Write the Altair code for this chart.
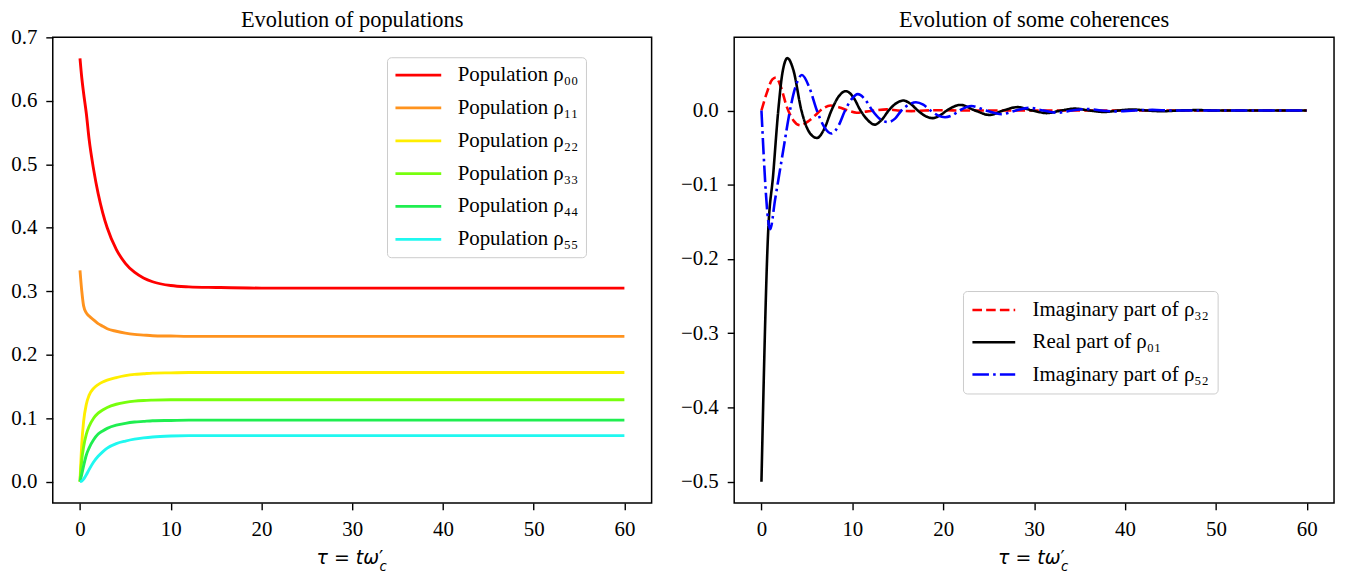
import altair as alt
import pandas as pd

# ---------------- data ----------------
t_pop = [0, 0.2, 0.4, 0.7, 1, 1.5, 2, 2.5, 3, 4, 5, 6, 7, 8, 10, 12, 15, 20, 30, 40, 50, 60]
rho00 = [0.667, 0.636, 0.612, 0.580, 0.540, 0.492, 0.454, 0.424, 0.400, 0.366, 0.344,
         0.330, 0.321, 0.315, 0.309, 0.307, 0.306, 0.305, 0.305, 0.305, 0.305, 0.305]
rho11 = [0.333, 0.300, 0.277, 0.266, 0.261, 0.255, 0.249, 0.245, 0.241, 0.237, 0.234,
         0.232, 0.231, 0.230, 0.2295, 0.229, 0.229, 0.229, 0.229, 0.229, 0.229, 0.229]
rho22 = [0.0, 0.060, 0.095, 0.122, 0.136, 0.147, 0.153, 0.157, 0.160, 0.164, 0.167,
         0.169, 0.170, 0.171, 0.1715, 0.172, 0.172, 0.172, 0.172, 0.172, 0.172, 0.172]
rho33 = [0.0, 0.035, 0.055, 0.075, 0.087, 0.100, 0.108, 0.113, 0.117, 0.122, 0.125,
         0.127, 0.128, 0.1285, 0.129, 0.129, 0.129, 0.129, 0.129, 0.129, 0.129, 0.129]
rho44 = [0.0, 0.012, 0.025, 0.042, 0.053, 0.066, 0.075, 0.080, 0.084, 0.089, 0.092,
         0.094, 0.095, 0.096, 0.0965, 0.097, 0.097, 0.097, 0.097, 0.097, 0.097, 0.097]
rho55 = [0.0, 0.001, 0.004, 0.011, 0.019, 0.031, 0.040, 0.047, 0.053, 0.060, 0.064,
         0.067, 0.069, 0.0705, 0.072, 0.0725, 0.0725, 0.0725, 0.0725, 0.0725, 0.0725, 0.0725]

pop_names = ["Population ρ₀₀", "Population ρ₁₁", "Population ρ₂₂",
             "Population ρ₃₃", "Population ρ₄₄", "Population ρ₅₅"]
pop_colors = ["#ff0000", "#ff931e", "#ffee00", "#77ff0d", "#1fee50", "#1ff8f0"]

t_im32 = [0, 0.6, 1.2, 1.6, 2.1, 2.8, 3.5, 4.3, 5.1, 5.9, 6.7, 7.6, 8.6, 9.5, 10.5,
          11.5, 12.5, 13.8, 15, 16.5, 18, 20, 22, 30, 40, 50, 60]
im32 = [0, 0.024, 0.042, 0.0445, 0.033, 0.0045, -0.013, -0.020, -0.015, -0.0067, 0.002,
        0.0067, 0.004, 0.0, -0.003, -0.0015, 0.0, 0.0015, 0.0, -0.0008, 0.0, 0.0004, 0.0,
        0.0, 0.0, 0.0, 0.0]

t_re01 = [0, 0.7, 1.3, 1.85, 2.3, 2.86, 3.5, 4.4, 5.2, 6.1, 6.9, 7.7, 8.5, 9.3, 10.1,
          10.9, 11.7, 12.45, 13.2, 14.0, 14.8, 15.6, 16.4, 17.2, 18.0, 18.8, 19.6, 20.4,
          21.9, 23.5, 25.1, 26.6, 28.2, 29.8, 31.4, 33.0, 34.5, 36.1, 37.7, 39.3, 40.8,
          42.4, 44, 46, 48, 50, 60]
re01 = [-0.5, -0.174, -0.085, 0.0, 0.05, 0.0705, 0.055, 0.0, -0.028, -0.037, -0.025, 0.0,
        0.019, 0.026, 0.018, 0.0, -0.013, -0.019, -0.013, 0.0, 0.0095, 0.0134, 0.009, 0.0,
        -0.0072, -0.0103, -0.007, 0.0, 0.0075, 0.0, -0.006, 0.0, 0.0045, 0.0, -0.0035, 0.0,
        0.0025, 0.0, -0.002, 0.0, 0.0013, 0.0, -0.001, 0.0, 0.0005, 0.0, 0.0]

t_im52 = [0, 0.96, 1.5, 2.0, 2.5, 3.0, 3.7, 4.45, 5.3, 6.1, 6.9, 7.7, 8.5, 9.2, 9.9, 10.6,
          11.4, 12.2, 13.0, 13.9, 14.7, 15.4, 16.2, 17.0, 17.8, 18.6, 19.4, 20.2, 21.0,
          21.8, 23.1, 24.7, 26.4, 28.0, 29.5, 31.0, 32.6, 34.2, 35.8, 37.4, 39, 41, 43, 45, 60]
im52 = [0, -0.160, -0.12, -0.083, -0.046, -0.009, 0.030, 0.0477, 0.030, 0.0, -0.022, -0.031,
        -0.020, 0.0, 0.015, 0.022, 0.015, 0.0, -0.011, -0.0156, -0.011, 0.0, 0.0078, 0.011,
        0.0078, 0.0, -0.0065, -0.009, -0.0065, 0.0, 0.006, 0.0, -0.005, 0.0, 0.0035, 0.0,
        -0.003, 0.0, 0.002, 0.0, -0.0012, 0.0, 0.0008, 0.0, 0.0]

coh_names = ["Imaginary part of ρ₃₂", "Real part of ρ₀₁", "Imaginary part of ρ₅₂"]
coh_colors = ["#ff0000", "#000000", "#0000ff"]
coh_dashes = [[9.6, 4.2], [1, 0], [16.6, 4.2, 2.6, 4.2]]

x_ticks = [0, 10, 20, 30, 40, 50, 60]
y_ticks_pop = [0.0, 0.1, 0.2, 0.3, 0.4, 0.5, 0.6, 0.7]
y_ticks_coh = [-0.5, -0.4, -0.3, -0.2, -0.1, 0.0]

# ---------------- tables ----------------
pop_rows = []
for name, vals in zip(pop_names, [rho00, rho11, rho22, rho33, rho44, rho55]):
    for t, v in zip(t_pop, vals):
        pop_rows.append({"t": t, "v": v, "pop": name})
pop_df = pd.DataFrame(pop_rows)

coh_rows = []
for name, ts, vals in zip(coh_names, [t_im32, t_re01, t_im52], [im32, re01, im52]):
    for t, v in zip(ts, vals):
        coh_rows.append({"t": t, "v": v, "coh": name})
coh_df = pd.DataFrame(coh_rows)

FONT = "Liberation Serif"
W, H = 602, 468


def ax(values, fmt=None, extent=None):
    kw = dict(values=values, title="", grid=False, domain=False, tickColor="black",
              tickWidth=1.4, tickSize=7, labelFont=FONT, labelFontSize=21,
              labelColor="black", labelPadding=9)
    if fmt:
        kw["format"] = fmt
    if extent is not None:
        kw["minExtent"] = extent
        kw["maxExtent"] = extent
    return alt.Axis(**kw)


def xlabel_layers():
    main = alt.Chart(pd.DataFrame({"s": ["τ = tω"]})).mark_text(
        font="DejaVu Sans", fontSize=19, fontStyle="italic", align="right",
        baseline="alphabetic", color="black").encode(
        text="s:N", x=alt.value(328), y=alt.value(529))
    prime = alt.Chart(pd.DataFrame({"s": ["′"]})).mark_text(
        font="DejaVu Sans", fontSize=19, align="left",
        baseline="alphabetic", color="black").encode(
        text="s:N", x=alt.value(328), y=alt.value(529))
    sub = alt.Chart(pd.DataFrame({"s": ["c"]})).mark_text(
        font="DejaVu Sans", fontSize=13.3, fontStyle="italic", align="left",
        baseline="alphabetic", color="black").encode(
        text="s:N", x=alt.value(328.5), y=alt.value(536))
    return [main, prime, sub]


def title(text, offset):
    return alt.TitleParams(text=text, font=FONT, fontSize=22.5, fontWeight="normal",
                           color="black", offset=offset, frame="group", anchor="middle")


pop_legend = alt.Legend(orient="none", legendX=336, legendY=20, title=None,
                        symbolType="stroke", symbolSize=2116, symbolStrokeWidth=2.8,
                        labelFont=FONT, labelFontSize=21, labelColor="black",
                        labelOffset=15, rowPadding=11, clipHeight=22, padding=7,
                        strokeColor="#cccccc", fillColor="white", cornerRadius=4,
                        labelLimit=400)

pop_lines = alt.Chart(pop_df).mark_line(strokeWidth=2.9, interpolate="monotone").encode(
    x=alt.X("t:Q", scale=alt.Scale(domain=[-3, 63], nice=False, zero=False),
            axis=ax(x_ticks)),
    y=alt.Y("v:Q", scale=alt.Scale(domain=[-0.0334, 0.7], nice=False, zero=False),
            axis=ax(y_ticks_pop, ".1f", 40)),
    color=alt.Color("pop:N", scale=alt.Scale(domain=pop_names, range=pop_colors),
                    legend=pop_legend),
)

left = alt.layer(pop_lines, *xlabel_layers()).properties(
    width=W, height=H, title=title("Evolution of populations", -5))

coh_legend = alt.Legend(orient="none", legendX=230, legendY=255, title=None,
                        symbolType="stroke", symbolSize=1850, symbolStrokeWidth=2.6,
                        labelFont=FONT, labelFontSize=21, labelColor="black",
                        labelOffset=16, rowPadding=10.5, clipHeight=22, padding=8,
                        strokeColor="#cccccc", fillColor="white", cornerRadius=4,
                        labelLimit=400)

coh_lines = alt.Chart(coh_df).mark_line(strokeWidth=2.6, interpolate="monotone").encode(
    x=alt.X("t:Q", scale=alt.Scale(domain=[-3, 63], nice=False, zero=False),
            axis=ax(x_ticks)),
    y=alt.Y("v:Q", scale=alt.Scale(domain=[-0.5285, 0.0985], nice=False, zero=False),
            axis=ax(y_ticks_coh, ".1f", 44)),
    color=alt.Color("coh:N", scale=alt.Scale(domain=coh_names, range=coh_colors),
                    legend=coh_legend),
    strokeDash=alt.StrokeDash("coh:N",
                              scale=alt.Scale(domain=coh_names, range=coh_dashes),
                              legend=coh_legend),
)

right = alt.layer(coh_lines, *xlabel_layers()).properties(
    width=W + 1, height=H, title=title("Evolution of some coherences", 6))

chart = alt.hconcat(left, right, spacing=27).resolve_scale(
    color="independent", strokeDash="independent"
).resolve_legend(
    color="independent", strokeDash="independent"
).properties(
    padding={"left": 2, "top": -2, "right": 5, "bottom": 5},
    background="white",
).configure_view(stroke="black", strokeWidth=1.5)

chart.save("out.html", embed_options={"renderer": "svg", "actions": False})
